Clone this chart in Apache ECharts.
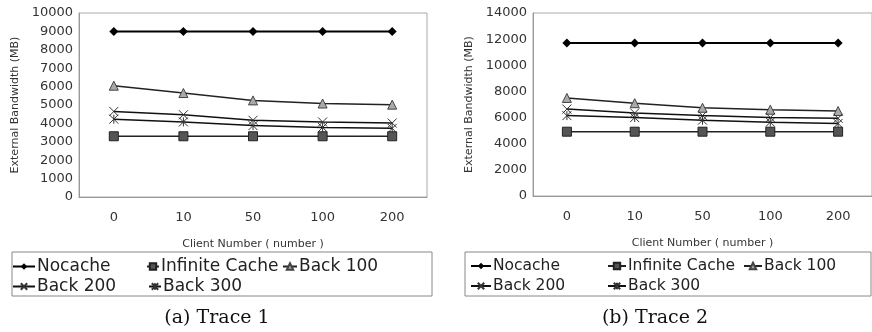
<!DOCTYPE html>
<html>
<head>
<meta charset="utf-8">
<script src="https://cdn.jsdelivr.net/npm/echarts@6/dist/echarts.min.js"></script>
<style>
html,body{margin:0;padding:0;background:#fff;}
#chart{width:872px;height:332px;}
</style>
</head>
<body>
<div id="chart"></div>
<script>
// x categories (client number)
var clients = ['0', '10', '50', '100', '200'];
var seriesNames = ['Nocache', 'Infinite Cache', 'Back 100', 'Back 200', 'Back 300'];

// Trace 1
var nocache1 = [9000, 9000, 9000, 9000, 9000];
var infinite1 = [3300, 3300, 3300, 3300, 3300];
var back100_1 = [6050, 5650, 5250, 5080, 5020];
var back200_1 = [4650, 4470, 4170, 4080, 4020];
var back300_1 = [4230, 4080, 3880, 3780, 3730];

// Trace 2
var nocache2 = [11700, 11700, 11700, 11700, 11700];
var infinite2 = [4920, 4920, 4920, 4920, 4920];
var back100_2 = [7500, 7100, 6750, 6600, 6500];
var back200_2 = [6650, 6350, 6150, 6000, 5950];
var back300_2 = [6150, 6000, 5800, 5650, 5550];

var captions = ['(a) Trace 1', '(b) Trace 2'];

var font = 'DejaVu Sans';
var symX = 'path://M0,0L10,10M10,0L0,10';
var symStar = 'path://M0,0L10,10M10,0L0,10M5,0L5,10';

var styles = {
    'Nocache': {symbol: 'diamond', symbolSize: 9, itemStyle: {color: '#000'}, lineStyle: {color: '#000', width: 2}},
    'Infinite Cache': {symbol: 'rect', symbolSize: 9, itemStyle: {color: '#555', borderColor: '#222', borderWidth: 1}, lineStyle: {color: '#222', width: 1.5}},
    'Back 100': {symbol: 'triangle', symbolSize: 9, itemStyle: {color: '#aaa', borderColor: '#444', borderWidth: 1}, lineStyle: {color: '#222', width: 1.5}},
    'Back 200': {symbol: symX, symbolSize: 9, itemStyle: {color: 'none', borderColor: '#333', borderWidth: 1}, lineStyle: {color: '#111', width: 1.5}},
    'Back 300': {symbol: symStar, symbolSize: 9, itemStyle: {color: 'none', borderColor: '#333', borderWidth: 1}, lineStyle: {color: '#111', width: 1.5}}
};

var data1 = [nocache1, infinite1, back100_1, back200_1, back300_1];
var data2 = [nocache2, infinite2, back100_2, back200_2, back300_2];

function makeSeries(datas, idx) {
    var out = [];
    for (var i = 0; i < seriesNames.length; i++) {
        var st = styles[seriesNames[i]];
        out.push({
            name: seriesNames[i],
            type: 'line',
            xAxisIndex: idx,
            yAxisIndex: idx,
            data: datas[i],
            symbol: st.symbol,
            symbolSize: st.symbolSize,
            itemStyle: st.itemStyle,
            lineStyle: st.lineStyle,
            animation: false
        });
    }
    return out;
}

function xAxisOf(idx) {
    return {
        type: 'category',
        gridIndex: idx,
        data: clients,
        boundaryGap: true,
        name: 'Client Number ( number )',
        nameLocation: 'middle',
        nameGap: 42,
        nameTextStyle: {fontFamily: font, fontSize: 11, color: '#333'},
        axisLine: {lineStyle: {color: '#999', width: 1}},
        axisTick: {inside: true, length: 3, lineStyle: {color: '#999'}},
        axisLabel: {fontFamily: font, fontSize: 13, color: '#333', margin: 14}
    };
}

function yAxisOf(idx, max, interval) {
    return {
        type: 'value',
        gridIndex: idx,
        min: 0,
        max: max,
        interval: interval,
        name: 'External Bandwidth (MB)',
        nameLocation: 'middle',
        nameGap: 58,
        nameTextStyle: {fontFamily: font, fontSize: 11, color: '#333'},
        axisLine: {show: true, lineStyle: {color: '#999', width: 1}},
        axisTick: {show: false},
        splitLine: {show: false},
        axisLabel: {fontFamily: font, fontSize: 13, color: '#333', margin: 6,
            formatter: function (v) { return String(v); }}
    };
}

// one legend per item so columns line up like the original
// [name, icon left, top, icon width, font size]
var legendPos = [
    ['Nocache', 12, 258, 22, 17], ['Infinite Cache', 146, 258, 12, 17], ['Back 100', 282, 258, 14, 17],
    ['Back 200', 12, 278, 22, 17], ['Back 300', 148, 278, 12, 17],
    ['Nocache', 470, 258, 20, 15.5], ['Infinite Cache', 607, 258, 18, 15.5], ['Back 100', 743, 258, 18, 15.5],
    ['Back 200', 470, 278, 20, 15.5], ['Back 300', 607, 278, 18, 15.5]
];
var legends = legendPos.map(function (p) {
    return {
        data: [p[0]],
        left: p[1],
        top: p[2],
        padding: 0,
        itemWidth: p[3],
        itemHeight: 8,
        itemGap: 0,
        selectedMode: false,
        textStyle: {fontFamily: font, fontSize: p[4], color: '#222', padding: [0, 0, 0, -3]}
    };
});

var myChart = echarts.init(document.getElementById('chart'));
var option = {
    backgroundColor: '#fff',
    animation: false,
    title: [
        {text: captions[0], left: 217, top: 309, textAlign: 'center', padding: 0, textStyle: {fontFamily: 'DejaVu Serif', fontSize: 19, fontWeight: 'normal', color: '#111'}},
        {text: captions[1], left: 655, top: 309, textAlign: 'center', padding: 0, textStyle: {fontFamily: 'DejaVu Serif', fontSize: 19, fontWeight: 'normal', color: '#111'}}
    ],
    legend: legends,
    grid: [
        {left: 79, top: 13, width: 348, height: 184, show: true, borderColor: '#aaa', borderWidth: 1},
        {left: 533, top: 13, width: 348, height: 183, show: true, borderColor: '#aaa', borderWidth: 1}
    ],
    xAxis: [xAxisOf(0), xAxisOf(1)],
    yAxis: [yAxisOf(0, 10000, 1000), yAxisOf(1, 14000, 2000)],
    graphic: [
        {type: 'rect', shape: {x: 12, y: 252, width: 420, height: 44}, style: {fill: 'none', stroke: '#888', lineWidth: 1}},
        {type: 'rect', shape: {x: 465, y: 252, width: 406, height: 44}, style: {fill: 'none', stroke: '#888', lineWidth: 1}}
    ],
    series: makeSeries(data1, 0).concat(makeSeries(data2, 1))
};
myChart.setOption(option);
</script>
</body>
</html>
